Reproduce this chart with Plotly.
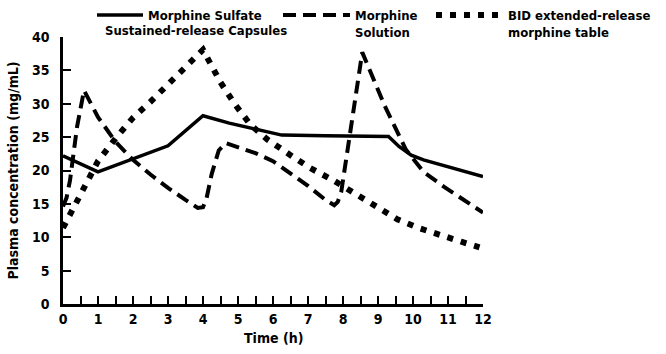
import plotly.graph_objects as go

# ---- data ----
solid_name = "Morphine Sulfate"
solid_name2 = "Sustained-release Capsules"
solid_t = [0, 1, 3, 4, 4.75, 6.25, 7.5, 9.3, 9.6, 9.95, 10.3, 10.7, 11.3, 12]
solid_v = [22.2, 19.8, 23.7, 28.2, 27.1, 25.3, 25.2, 25.1, 23.6, 22.3, 21.6, 21.0, 20.1, 19.1]

dash_name = "Morphine<br>Solution"
dash_t = [0, 0.1, 0.2, 0.4, 0.6, 1.0, 1.5, 2.0, 2.5, 3.0, 3.5, 3.85, 4.0, 4.1, 4.25,
          4.45, 4.65, 5.0, 5.5, 6.0, 6.5, 7.0, 7.5, 7.75, 7.85, 7.95, 8.55, 9.2, 9.8,
          10.3, 10.9, 11.5, 12]
dash_v = [14.6, 15.9, 18.5, 26.5, 32.0, 28.0, 24.3, 21.6, 19.4, 17.4, 15.6, 14.4, 14.5,
          15.8, 19.5, 23.0, 24.1, 23.5, 22.6, 21.4, 19.6, 17.7, 15.6, 14.8, 15.3, 16.8,
          37.7, 29.6, 23.1, 19.8, 17.5, 15.5, 13.7]

dot_name = "BID extended-release<br>morphine table"
dot_t = [0, 0.5, 1, 1.5, 2, 2.5, 3, 3.5, 4, 4.5, 4.9, 5.35, 5.85, 6.5, 7.05, 7.7, 8.3,
         8.9, 9.55, 10.15, 10.8, 11.4, 11.9]
dot_v = [11.4, 16.6, 21.4, 24.8, 27.9, 30.3, 32.9, 35.6, 38.1, 33.2, 30.0, 26.9, 24.6,
         22.3, 20.4, 18.6, 16.7, 14.9, 12.7, 11.4, 10.2, 9.3, 8.5]

x_ticks = list(range(0, 13))
y_ticks = list(range(0, 41, 5))
x_title = "Time (h)"
y_title = "Plasma concentration (mg/mL)"

FONT = "Liberation Sans Narrow, DejaVu Sans Condensed, Roboto Condensed, Arial Narrow, sans-serif"
LEG_FONT = dict(family=FONT, size=13, color="black", weight="bold")

W, H = 666, 354
ML, MR, MT, MB = 63, 183, 37, 50
PW, PH = W - ML - MR, H - MT - MB


def cx(px):
    return px / W


def cy(py):
    return 1 - py / H


def px_x(px):
    return (px - ML) / PW


def px_y(py):
    return (H - MB - py) / PH


fig = go.Figure()
fig.add_trace(go.Scatter(x=solid_t, y=solid_v, mode="lines", name=solid_name, legend="legend",
                         line=dict(color="black", width=3.5)))
fig.add_trace(go.Scatter(x=dash_t, y=dash_v, mode="lines", name=dash_name, legend="legend2",
                         line=dict(color="black", width=4, dash="13px,7px")))
fig.add_trace(go.Scatter(x=dot_t, y=dot_v, mode="lines", name=dot_name, legend="legend3",
                         line=dict(color="black", width=6, dash="6px,8px")))

axis_common = dict(showgrid=False, zeroline=False, showline=True, linecolor="black",
                   linewidth=2.5, ticks="inside", ticklen=8, tickwidth=2, tickcolor="black",
                   automargin=False,
                   tickfont=dict(family=FONT, size=14, color="black", weight="bold"))

fig.update_xaxes(range=[0, 12], tickvals=x_ticks, ticktext=[str(v) for v in x_ticks],
                 minor=dict(dtick=0.5, ticks="inside", ticklen=8, tickwidth=2, tickcolor="black"),
                 **axis_common)
fig.update_yaxes(range=[0, 40], tickvals=y_ticks, ticktext=[str(v) for v in y_ticks],
                 ticklabelstandoff=8, **axis_common)

leg_common = dict(orientation="v", xanchor="left", yanchor="top", valign="top",
                  xref="container", yref="container",
                  font=LEG_FONT, bgcolor="rgba(0,0,0,0)", itemclick=False,
                  itemdoubleclick=False, y=cy(0))

fig.update_layout(
    width=W, height=H,
    margin=dict(l=ML, r=MR, t=MT, b=MB, autoexpand=False),
    paper_bgcolor="white", plot_bgcolor="white",
    showlegend=True,
    legend=dict(x=cx(92), itemwidth=46, **leg_common),
    legend2=dict(x=cx(278), itemwidth=67, **leg_common),
    legend3=dict(x=cx(431), itemwidth=67, **leg_common),
    annotations=[
        dict(text=solid_name2, xref="paper", yref="paper", x=px_x(103), y=px_y(31),
             xanchor="left", yanchor="middle", showarrow=False, font=LEG_FONT),
        dict(text=x_title, xref="paper", yref="paper", x=0.5, y=px_y(338),
             xanchor="center", yanchor="middle", showarrow=False,
             font=dict(family=FONT, size=14, color="black", weight="bold")),
        dict(text=y_title, xref="paper", yref="paper", x=px_x(12), y=0.5, textangle=-90,
             xanchor="center", yanchor="middle", showarrow=False,
             font=dict(family=FONT, size=14, color="black", weight="bold")),
    ],
)

fig.write_html("out.html")
